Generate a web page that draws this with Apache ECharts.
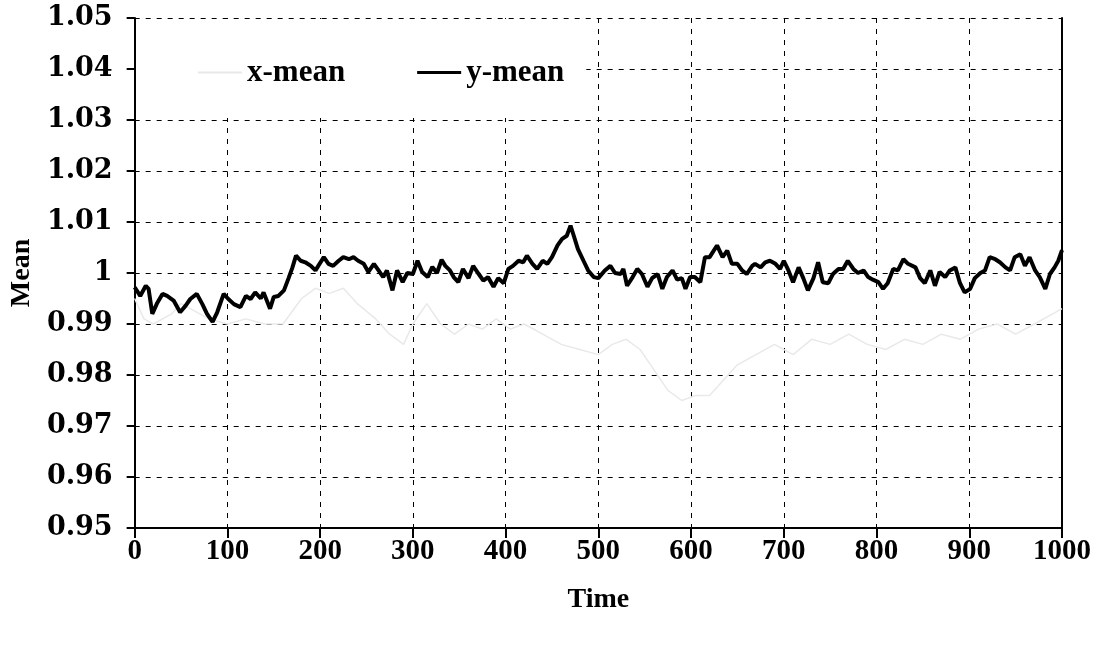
<!DOCTYPE html>
<html>
<head>
<meta charset="utf-8">
<script src="https://cdn.jsdelivr.net/npm/echarts@6/dist/echarts.min.js"></script>
<style>
html,body{margin:0;padding:0;background:#fff;}
#chart{width:1109px;height:648px;}
</style>
</head>
<body>
<div id="chart"></div>
<script>
// ---- data ----
var yTime = [0,6,12,15,19,24,30,35,42,49,55,60,67,73,78,84,89,96,101,107,114,120,125,130,136,139,146,150,155,161,166,170,174,179,184,190,195,198,204,209,214,220,225,231,236,241,247,252,258,263,268,272,278,283,289,294,300,305,310,316,321,326,331,335,340,344,349,354,360,365,371,376,381,387,392,398,403,408,414,419,423,429,434,440,445,450,456,461,466,470,473,478,484,489,495,500,502,507,513,518,524,527,531,537,542,547,553,558,564,569,574,580,585,590,594,599,604,610,615,620,628,634,639,644,650,655,660,666,669,675,680,685,691,696,700,705,710,716,721,726,732,737,742,748,753,759,764,769,775,780,786,791,796,802,807,812,818,823,829,834,842,847,852,858,863,868,874,879,885,890,895,901,906,912,917,922,928,933,939,944,949,955,960,965,971,976,982,987,992,996,1000];
var yMean = [0.9972,0.9955,0.9975,0.9969,0.9920,0.9940,0.9959,0.9955,0.9946,0.9923,0.9936,0.9949,0.9959,0.9939,0.9920,0.9904,0.9923,0.9959,0.9949,0.9939,0.9933,0.9955,0.9949,0.9962,0.9950,0.9962,0.9930,0.9953,0.9955,0.9966,0.9990,1.0010,1.0034,1.0024,1.0021,1.0014,1.0005,1.0014,1.0031,1.0018,1.0014,1.0024,1.0031,1.0027,1.0031,1.0024,1.0018,1.0002,1.0018,1.0005,0.9992,1.0005,0.9966,1.0005,0.9982,1.0000,0.9998,1.0024,1.0002,0.9992,1.0012,1.0000,1.0026,1.0014,1.0005,0.9992,0.9982,1.0008,0.9990,1.0014,0.9998,0.9985,0.9992,0.9973,0.9990,0.9980,1.0008,1.0014,1.0024,1.0021,1.0034,1.0018,1.0008,1.0024,1.0018,1.0031,1.0054,1.0067,1.0073,1.0093,1.0076,1.0047,1.0024,1.0005,0.9992,0.9990,0.9992,1.0005,1.0014,1.0000,0.9998,1.0008,0.9975,0.9992,1.0008,0.9998,0.9973,0.9990,0.9998,0.9969,0.9992,1.0005,0.9987,0.9990,0.9969,0.9992,0.9992,0.9982,1.0031,1.0031,1.0054,1.0031,1.0044,1.0018,1.0018,1.0005,0.9998,1.0014,1.0018,1.0011,1.0021,1.0024,1.0018,1.0008,1.0024,1.0005,0.9982,1.0011,0.9990,0.9966,0.9990,1.0021,0.9982,0.9980,0.9998,1.0008,1.0008,1.0024,1.0008,1.0000,1.0005,0.9992,0.9987,0.9982,0.9969,0.9980,1.0008,1.0005,1.0027,1.0018,1.0011,0.9990,0.9980,1.0005,0.9975,1.0002,0.9992,1.0005,1.0011,0.9980,0.9962,0.9969,0.9990,1.0000,1.0005,1.0031,1.0027,1.0021,1.0011,1.0005,1.0031,1.0037,1.0014,1.0031,1.0005,0.9992,0.9969,0.9998,1.0011,1.0024,1.0045];

var xTime = [0,10,20,40,50,60,80,100,120,140,160,180,195,210,225,240,260,275,290,300,315,330,345,360,375,390,405,420,440,460,480,500,515,530,545,560,575,590,605,620,635,650,670,690,710,730,750,770,790,810,830,850,870,890,910,930,950,970,990,1000];
var xMean = [0.995,0.991,0.990,0.992,0.994,0.993,0.991,0.990,0.991,0.990,0.990,0.995,0.997,0.996,0.997,0.994,0.991,0.988,0.986,0.990,0.994,0.990,0.988,0.990,0.989,0.991,0.989,0.990,0.988,0.986,0.985,0.984,0.986,0.987,0.985,0.981,0.977,0.975,0.976,0.976,0.979,0.982,0.984,0.986,0.984,0.987,0.986,0.988,0.986,0.985,0.987,0.986,0.988,0.987,0.989,0.990,0.988,0.990,0.992,0.993];

var seriesNames = ['x-mean','y-mean'];
var xAxisTitle = 'Time';
var yAxisTitle = 'Mean';

function pairs(t, v){ return t.map(function(x,i){ return [x, v[i]]; }); }

var SERIF = '"Liberation Serif", "Times New Roman", serif';
var WIDE = '"DejaVu Serif", serif';
var titleStyle = {color:'#000', fontFamily:SERIF, fontWeight:'bold', fontSize:28};
var xLabStyle = {color:'#000', fontFamily:SERIF, fontWeight:'bold', fontSize:29};
var yLabStyle = {color:'#000', fontFamily:WIDE, fontWeight:'bold', fontSize:27};
var gridDash = {color:'#000', width:1, type:[5,6]};
var XCOL = '#e9e9e9';

var chart = echarts.init(document.getElementById('chart'), null, {renderer:'canvas'});
chart.setOption({
  animation:false,
  backgroundColor:'#fff',
  grid:{left:134, right:47, top:18, bottom:120, containLabel:false},
  legend:{
    left:136, top:19,
    padding:[38, 22, 30, 62],
    backgroundColor:'#fff',
    itemWidth:44, itemHeight:14, itemGap:72,
    textStyle:{color:'#000', fontFamily:SERIF, fontWeight:'bold', fontSize:31},
    data:[
      {name:seriesNames[0], icon:'path://M0,6 L44,6 L44,8 L0,8 Z', itemStyle:{color:XCOL}},
      {name:seriesNames[1], icon:'path://M0,5.5 L44,5.5 L44,8.5 L0,8.5 Z', itemStyle:{color:'#000'}}
    ]
  },
  xAxis:{
    type:'value', min:0, max:1000, interval:100,
    name:xAxisTitle, nameLocation:'middle', nameGap:58,
    nameTextStyle:titleStyle,
    axisLine:{show:true, onZero:false, lineStyle:{color:'#000', width:2}},
    axisTick:{show:true, length:10, lineStyle:{color:'#000', width:2}},
    axisLabel:Object.assign({margin:9, formatter:function(v){ return String(v); }}, xLabStyle),
    splitLine:{show:true, lineStyle:gridDash}
  },
  yAxis:[{
    type:'value', min:0.95, max:1.05, interval:0.01,
    name:yAxisTitle, nameLocation:'middle', nameGap:94, nameRotate:90,
    nameTextStyle:titleStyle,
    axisLine:{show:true, lineStyle:{color:'#000', width:2}},
    axisTick:{show:true, length:8, lineStyle:{color:'#000', width:2}},
    axisLabel:Object.assign({margin:22, formatter:function(v){ return String(Math.round(v*100)/100); }}, yLabStyle),
    splitLine:{show:true, lineStyle:gridDash}
  },{
    type:'value', min:0.95, max:1.05, interval:0.01, position:'right',
    axisLine:{show:true, lineStyle:{color:'#000', width:2}},
    axisTick:{show:false}, axisLabel:{show:false}, splitLine:{show:false}
  }],
  series:[
    {name:seriesNames[0], type:'line', data:pairs(xTime,xMean), showSymbol:false, smooth:false,
     lineStyle:{color:XCOL, width:1.5}, itemStyle:{color:XCOL}, z:2},
    {name:seriesNames[1], type:'line', data:pairs(yTime,yMean), showSymbol:false, smooth:false,
     lineStyle:{color:'#000', width:4}, itemStyle:{color:'#000'}, z:3}
  ]
});
</script>
</body>
</html>
